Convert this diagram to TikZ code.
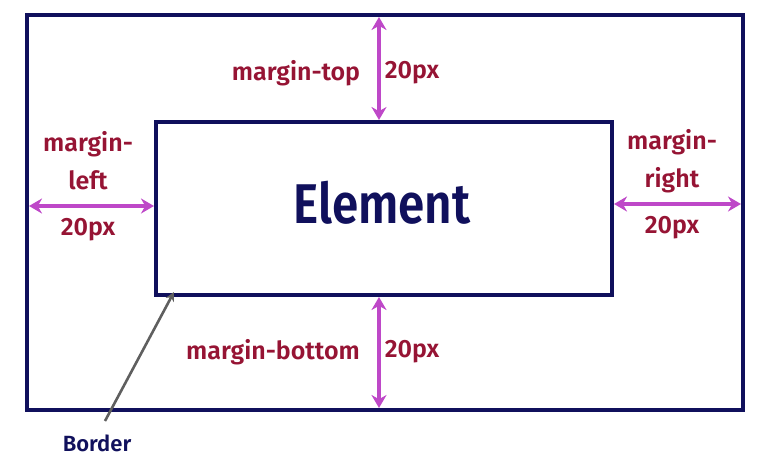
\documentclass[tikz,border=0pt]{standalone}
\usepackage{fontspec}
\setmainfont{Fira Sans}[BoldFont={* SemiBold}]
\newfontfamily\narrowfont{Fira Sans SemiBold}[FakeStretch=0.85]
\usetikzlibrary{positioning}
\usetikzlibrary{arrows.meta}

\definecolor{navy}{RGB}{16,16,92}
\definecolor{wine}{RGB}{150,20,52}
\definecolor{orchid}{RGB}{190,72,200}
\definecolor{pointer}{RGB}{95,95,95}

\begin{document}
\begin{tikzpicture}[x=1pt,y=-1pt]
	\tikzstyle{box}=[draw=navy,line width=3.8pt,outer sep=0pt,inner sep=0pt]
	\tikzstyle{lbl}=[text=wine,font=\bfseries\fontsize{25}{38}\selectfont,inner sep=0pt,align=center]
	\tikzstyle{marrow}=[draw=orchid,line width=3.2pt,{Stealth[length=13pt,width=15pt]}-{Stealth[length=13pt,width=15pt]},shorten <=2pt,shorten >=2pt]
	\useasboundingbox (0,0) rectangle (768,466);
	% boxes
	\node[box,minimum width=716pt,minimum height=395pt] (page) at (385,212.5) {};
	\node[box,minimum width=456pt,minimum height=173pt] (elem) at (384,208.5) {};
	\node[text=navy,font=\narrowfont\fontsize{56}{60}\selectfont,inner sep=0pt] (elemtext) at (382,203) {Element};
	% arrow positions
	\coordinate (top) at (379,0);
	\coordinate (left) at (0,206);
	\coordinate (right) at (0,204);
	\draw[marrow] (page.north -| top) -- (elem.north -| top);
	\draw[marrow] (elem.south -| top) -- (page.south -| top);
	\draw[marrow] (page.west |- left) -- (elem.west |- left);
	\draw[marrow] (elem.east |- right) -- (page.east |- right);
	% labels
	\node[lbl] (mtop) at (296,73) {margin-top};
	\node[lbl] (vtop) at (412,73) {20px};
	\node[lbl] (mbottom) at (273,352) {margin-bottom};
	\node[lbl] (vbottom) at (412,352) {20px};
	\node[lbl] (mleft) at (88,161) {margin-\\left};
	\node[lbl] (vleft) at (88,230) {20px};
	\node[lbl] (mright) at (672,161) {margin-\\right};
	\node[lbl] (vright) at (672,228) {20px};
	% border pointer
	\node[text=navy,font=\bfseries\fontsize{22}{26}\selectfont] (border) at (97,443) {Border};
	\coordinate (corner) at (174,292);
	\coordinate (tail) at (105,421);
	\draw[pointer,line width=2.6pt,-{Stealth[length=9pt,width=9pt]}] (tail) -- (corner);
\end{tikzpicture}
\end{document}
